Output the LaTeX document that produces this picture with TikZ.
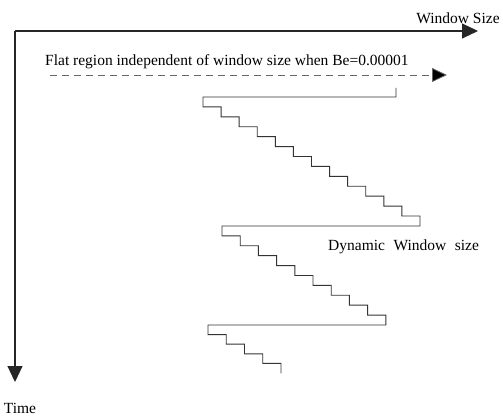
\documentclass[tikz,border=0pt]{standalone}
\usepackage{fontspec}
\setmainfont{Liberation Serif}
\newfontfamily\widefont[WordSpace=2.2]{Liberation Serif}
\usetikzlibrary{arrows.meta}
\begin{document}
\begin{tikzpicture}[x=1pt,y=-1pt,
  lbl/.style={font=\fontsize{15.5}{18}\selectfont, inner sep=0pt, text=black},
  axis/.style={line width=1.1pt, draw=black!85, -{Triangle[length=16pt,width=15pt]}},
  flat/.style={line width=0.8pt, draw=black!60, dash pattern=on 7pt off 5pt, -{Triangle[length=15pt,width=14pt,fill=black]}},
  stair/.style={line width=0.9pt, draw=black!80}]
\useasboundingbox (0,0) rectangle (503,419);
\coordinate (O) at (15,31);
\coordinate (X) at (478,31);
\coordinate (Y) at (15,382);
\draw[axis] (O) -- (X);
\draw[axis] (O) -- (Y);
\node[lbl] (ws) at (458,18) {Window Size};
\node[lbl] (time) at (20,408) {Time};
\node[lbl, anchor=west] (flat) at (45,62) {Flat region independent of window size when Be=0.00001};
\coordinate (F0) at (50,75);
\coordinate (F1) at (447,75);
\draw[flat] (F0) -- (F1);
\node[lbl, anchor=west] (dyn) at (328,247) {\widefont Dynamic Window size};
\coordinate (S0) at (396,88);
\draw[stair] (S0) -- (396,97) -- (203,97)
  \foreach \i in {1,...,12}{ -- ++(0,9.92) -- ++(18.08,0)} -- ++(0,9.92)
  -- (222,226)
  \foreach \i in {1,...,9}{ -- ++(0,9.9) -- ++(18.2,0)} -- ++(0,9.9)
  -- (208,325)
  \foreach \i in {1,...,4}{ -- ++(0,9.6) -- ++(18.25,0)} -- ++(0,10);
\end{tikzpicture}
\end{document}
